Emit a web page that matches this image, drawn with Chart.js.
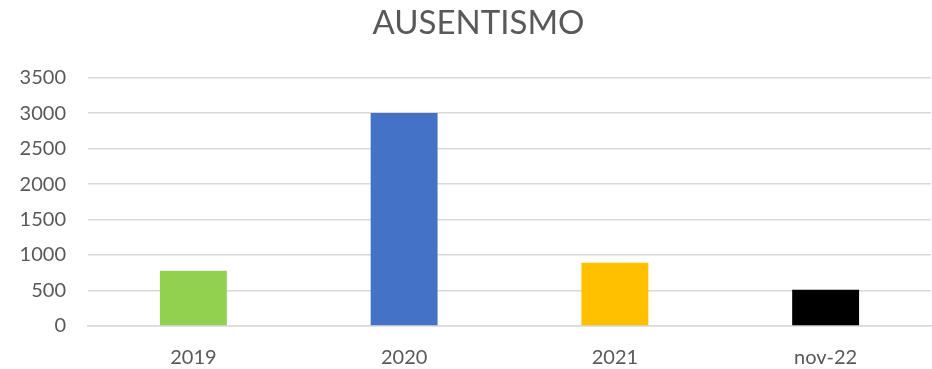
<!DOCTYPE html>
<html>
<head>
<meta charset="utf-8">
<script src="https://cdn.jsdelivr.net/npm/chart.js@4.4.1/dist/chart.umd.min.js"></script>
<style>
  html, body { margin: 0; padding: 0; background: #ffffff; }
  #wrap { width: 932px; height: 369px; }
</style>
</head>
<body>
<div id="wrap"><canvas id="chart" width="932" height="369"></canvas></div>
<script>
// Absenteeism per period
const categories = ['2019', '2020', '2021', 'nov-22'];
const values = [780, 3000, 890, 510];
const barColors = ['#92d050', '#4472c4', '#ffc000', '#000000'];
const yTicks = [0, 500, 1000, 1500, 2000, 2500, 3000, 3500];

const FONT = "Lato, 'Open Sans', 'Liberation Sans', sans-serif";

// Let the y labels use the space left of the layout padding
const widenYLabelArea = {
  id: 'widenYLabelArea',
  afterLayout(chart) { chart.scales.y.left = 0; }
};

new Chart(document.getElementById('chart'), {
  type: 'bar',
  data: {
    labels: categories,
    datasets: [{
      data: values,
      backgroundColor: barColors,
      borderWidth: 0,
      barPercentage: 0.635,
      categoryPercentage: 0.5
    }]
  },
  plugins: [widenYLabelArea],
  options: {
    responsive: false,
    animation: false,
    devicePixelRatio: 1,
    layout: { padding: { left: 26, right: 1, top: 4, bottom: 0 } },
    plugins: {
      legend: { display: false },
      tooltip: { enabled: false },
      title: {
        display: true,
        text: 'AUSENTISMO',
        color: '#595959',
        font: { family: FONT, size: 33, weight: 'normal' },
        padding: { top: 0, bottom: 34 }
      }
    },
    scales: {
      x: {
        grid: { display: false, drawTicks: false },
        border: { display: true, color: '#d9d9d9', width: 1.5 },
        afterFit: (scale) => { scale.height = 43; },
        ticks: {
          color: '#595959',
          font: { family: FONT, size: 20 },
          padding: 20
        }
      },
      y: {
        min: 0,
        max: 3500,
        afterBuildTicks: (scale) => { scale.ticks = yTicks.map(v => ({ value: v })); },
        afterFit: (scale) => { scale.width = 62; },
        grid: { color: '#d9d9d9', lineWidth: 1.5, drawTicks: false },
        border: { display: false },
        ticks: {
          color: '#595959',
          font: { family: FONT, size: 20 },
          padding: 22,
          callback: (v) => String(v)
        }
      }
    }
  }
});
</script>
</body>
</html>
